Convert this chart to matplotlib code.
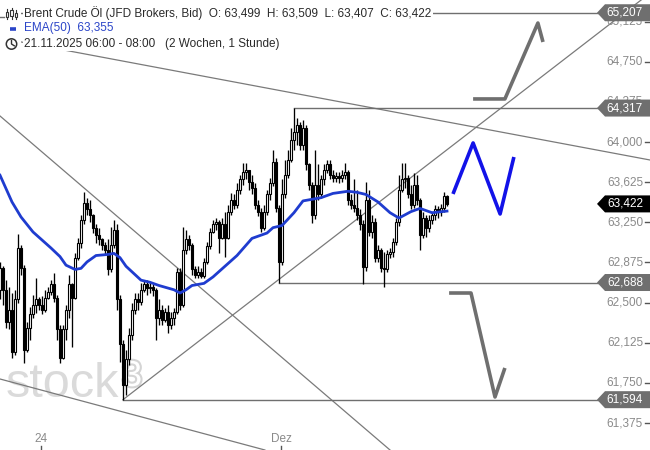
import matplotlib
matplotlib.use("Agg")
import matplotlib.pyplot as plt
from matplotlib.patches import Polygon, Circle, Rectangle
import matplotlib.patheffects as pe

plt.rcParams['font.family'] = ['Liberation Sans', 'DejaVu Sans']

# ---------------- data (hourly candles) ----------------
first_open = 62.62
closes = [62.82, 62.62, 62.32, 62.43, 62.04, 62.53, 63.01, 62.82, 62.06, 62.26,
          62.39, 62.48, 62.53, 62.48, 62.43, 62.54, 62.60, 62.67, 62.54, 62.25,
          61.98, 62.25, 62.43, 62.67, 62.54, 62.92, 63.06, 63.27, 63.43, 63.37,
          63.32, 63.20, 63.13, 63.09, 63.04, 62.99, 62.81, 63.04, 63.18, 62.53,
          62.11, 61.73, 61.97, 62.20, 62.43, 62.53, 62.51, 62.62, 62.67, 62.64,
          62.65, 62.62, 62.36, 62.43, 62.34, 62.41, 62.29, 62.36, 62.41, 62.79,
          62.48, 62.99, 63.09, 63.04, 62.81, 62.76, 62.79, 62.75, 62.88, 63.03,
          63.16, 63.23, 63.25, 63.10, 63.23, 63.10, 63.35, 63.46, 63.41, 63.55,
          63.65, 63.72, 63.74, 63.63, 63.57, 63.41, 63.35, 63.20, 63.35, 63.51,
          63.62, 63.81, 63.38, 62.88, 63.51, 63.69, 63.83, 64.02, 64.09, 64.16,
          63.97, 64.13, 63.79, 63.60, 63.32, 63.60, 63.51, 63.65, 63.74, 63.79,
          63.69, 63.66, 63.68, 63.66, 63.69, 63.72, 63.46, 63.41, 63.38, 63.32,
          63.23, 62.83, 63.46, 63.16, 63.25, 62.92, 62.99, 62.82, 62.81, 62.95,
          62.97, 63.07, 63.25, 63.55, 63.65, 63.66, 63.51, 63.41, 63.60, 63.46,
          63.13, 63.29, 63.20, 63.27, 63.32, 63.37, 63.35, 63.38, 63.499, 63.422]
highs = [62.88, 62.84, 62.71, 62.65, 62.59, 62.62, 63.14, 63.04, 62.85, 62.32,
         62.46, 62.57, 62.73, 62.55, 62.56, 62.62, 62.65, 62.71, 62.78, 62.57,
         62.29, 62.29, 62.48, 62.76, 62.68, 62.96, 63.10, 63.32, 63.53, 63.48,
         63.46, 63.33, 63.23, 63.20, 63.10, 63.07, 63.09, 63.21, 63.27, 63.23,
         62.57, 62.15, 62.06, 62.26, 62.50, 62.59, 62.59, 62.68, 62.71, 62.71,
         62.69, 62.67, 62.64, 62.53, 62.48, 62.45, 62.48, 62.41, 62.45, 62.82,
         62.82, 63.21, 63.18, 63.13, 63.06, 62.84, 62.84, 62.82, 62.92, 63.07,
         63.20, 63.27, 63.29, 63.27, 63.29, 63.35, 63.41, 63.52, 63.51, 63.62,
         63.69, 63.80, 63.80, 63.74, 63.69, 63.62, 63.46, 63.38, 63.41, 63.55,
         63.66, 63.93, 63.85, 63.41, 63.65, 63.83, 63.93, 64.13, 64.317, 64.22,
         64.19, 64.21, 64.16, 63.80, 63.63, 63.93, 63.79, 63.69, 63.79, 63.83,
         63.83, 63.74, 63.72, 63.72, 63.74, 63.80, 63.74, 63.51, 63.65, 63.55,
         63.37, 63.27, 63.63, 63.55, 63.32, 63.29, 63.04, 63.01, 62.97, 62.99,
         63.01, 63.10, 63.29, 63.69, 63.80, 63.80, 63.69, 63.60, 63.71, 63.69,
         63.48, 63.35, 63.32, 63.32, 63.35, 63.41, 63.40, 63.42, 63.53, 63.509]
lows = [62.53, 62.48, 62.26, 62.25, 61.98, 62.01, 62.50, 62.76, 61.94, 62.04,
        62.15, 62.36, 62.40, 62.43, 62.39, 62.41, 62.53, 62.57, 62.51, 62.15,
        61.94, 61.97, 62.15, 62.36, 62.09, 62.53, 62.90, 63.01, 63.23, 63.32,
        63.25, 63.15, 63.06, 63.04, 62.99, 62.95, 62.76, 62.79, 63.01, 62.43,
        61.95, 61.594, 61.64, 61.92, 62.15, 62.39, 62.43, 62.48, 62.60, 62.57,
        62.59, 62.56, 62.15, 62.29, 62.29, 62.32, 62.22, 62.25, 62.29, 62.39,
        62.43, 62.46, 62.95, 62.99, 62.76, 62.73, 62.73, 62.73, 62.73, 62.86,
        63.00, 63.15, 63.18, 62.96, 63.09, 62.93, 63.09, 63.32, 63.37, 63.38,
        63.51, 63.60, 63.65, 63.55, 63.51, 63.37, 63.31, 63.16, 63.18, 63.32,
        63.46, 63.59, 63.35, 62.688, 62.85, 63.48, 63.66, 63.81, 63.93, 63.97,
        63.93, 63.93, 63.74, 63.55, 63.24, 63.28, 63.46, 63.48, 63.60, 63.71,
        63.65, 63.63, 63.63, 63.62, 63.63, 63.65, 63.41, 63.37, 63.35, 63.27,
        63.18, 62.67, 62.80, 63.12, 63.10, 62.88, 62.88, 62.79, 62.65, 62.79,
        62.92, 62.93, 63.04, 63.22, 63.53, 63.57, 63.48, 63.37, 63.38, 63.41,
        62.99, 63.10, 63.11, 63.16, 63.23, 63.27, 63.29, 63.31, 63.35, 63.407]

# EMA(50) read at selected candle positions
ema_idx = [0, 4, 7, 11, 17, 20, 22, 25, 27, 29, 32, 36, 38, 40, 42, 47, 50, 53, 58, 60,
           62, 64, 68, 71, 73, 79, 84, 89, 91, 94, 98, 101, 107, 111, 116, 119, 122,
           126, 130, 133, 137, 140, 144, 149]
ema_val = [63.69, 63.44, 63.30, 63.16, 63.01, 62.93, 62.85, 62.81, 62.82, 62.88, 62.94,
           62.95, 62.96, 62.92, 62.84, 62.71, 62.69, 62.66, 62.62, 62.59, 62.62, 62.66,
           62.68, 62.74, 62.79, 62.94, 63.10, 63.15, 63.20, 63.22, 63.34, 63.45, 63.48,
           63.52, 63.54, 63.53, 63.51, 63.44, 63.34, 63.29, 63.35, 63.38, 63.34, 63.355]

level_prices = [65.207, 64.317, 62.688, 61.594]
level_start = [0, 98, 93, 41]
current_price = 63.422
ytick_vals = [65.125, 64.75, 64.375, 64.0, 63.625, 63.25, 62.875, 62.5, 62.125, 61.75, 61.375]
xtick_pos = [13.67, 93.67]
xtick_labels = ['24', 'Dez']

trend_lines = [((0, 64.971), (216.67, 63.832)),
               ((0, 64.243), (130.0, 61.124)),
               ((0, 61.787), (88.3, 61.124)),
               ((41, 61.594), (216.67, 65.39))]

arrow_up_x = [157.7, 168.3, 179.3, 181.0]
arrow_up_y = [64.402, 64.402, 65.111, 64.934]
zigzag_x = [151.0, 157.7, 166.7, 171.3]
zigzag_y = [63.515, 63.991, 63.328, 63.860]
arrow_dn_x = [149.7, 157.0, 165.0, 168.3]
arrow_dn_y = [62.590, 62.590, 61.619, 61.890]

legend_row1 = "Brent Crude Öl (JFD Brokers, Bid)  O: 63,499  H: 63,509  L: 63,407  C: 63,422"
legend_row2 = "EMA(50)  63,355"
legend_row3 = "21.11.2025 06:00 - 08:00   (2 Wochen, 1 Stunde)"

# ---------------- layout ----------------
W, H = 650, 450
X_MAX = W / 3.0
Y_TOP, Y_BOT = 65.326, 61.124


def y_px(v):
    return (Y_TOP - v) / (Y_TOP - Y_BOT) * H


def fmt(v):
    return f"{v:.3f}".replace('.', ',')


fig = plt.figure(figsize=(6.5, 4.5), dpi=100)
fig.patch.set_facecolor('white')
ax = fig.add_axes([0, 0, 1, 1])
ax.set_xlim(0, X_MAX)
ax.set_ylim(Y_BOT, Y_TOP)
ax.axis('off')

GRAY = '#6f6f6f'

# watermark
ax.text(6 / 3.0, Y_TOP - 397 * (Y_TOP - Y_BOT) / H, 'stock', fontsize=35, color='#dadada',
        ha='left', va='baseline', zorder=0)
ax.text(122 / 3.0, Y_TOP - 386 * (Y_TOP - Y_BOT) / H, '3', fontsize=26, color='white',
        ha='left', va='baseline', zorder=0,
        path_effects=[pe.withStroke(linewidth=3, foreground='#d4d4d4')])

# trend lines
for (x0, y0), (x1, y1) in trend_lines:
    ax.plot([x0, x1], [y0, y1], color='#7a7a7a', lw=0.9, zorder=1)

# horizontal levels
for p, s in zip(level_prices, level_start):
    ax.plot([s, 598 / 3.0], [p, p], color=GRAY, lw=1.0, zorder=1)

# candles
opens = [first_open] + closes[:-1]
for i, (o, h, l, c) in enumerate(zip(opens, highs, lows, closes)):
    top, bot = max(o, c), min(o, c)
    ax.vlines(i, min(l, bot), max(h, top), color='black', lw=0.95, zorder=2)
    body = max(top - bot, 0.006)
    fc = 'white' if c >= o else 'black'
    ax.add_patch(Rectangle((i - 0.4, bot), 0.8, body, facecolor=fc,
                           edgecolor='black', lw=0.8, zorder=3))

# EMA
ax.plot(ema_idx, ema_val, color='#1f3ccf', lw=2.0, zorder=4, solid_joinstyle='round')

# scenario drawings
ax.plot(arrow_up_x, arrow_up_y, color=GRAY, lw=2.6, zorder=5, solid_capstyle='butt')
ax.plot(zigzag_x, zigzag_y, color='#1212e8', lw=2.6, zorder=5, solid_capstyle='butt')
ax.plot(arrow_dn_x, arrow_dn_y, color=GRAY, lw=2.6, zorder=5, solid_capstyle='butt')

# ---------------- overlay in pixel coordinates ----------------
ov = fig.add_axes([0, 0, 1, 1])
ov.set_xlim(0, W)
ov.set_ylim(H, 0)
ov.axis('off')
ov.patch.set_alpha(0)

# y axis labels and ticks
for v in ytick_vals:
    yp = y_px(v)
    ov.text(643, yp, fmt(v), ha='right', va='center', fontsize=8.5, color='#8a8a8a', zorder=1)
    ov.plot([645, 650], [yp, yp], color='#555555', lw=1, zorder=1)

# x axis labels
for xp, lab in zip(xtick_pos, xtick_labels):
    xx = xp * 3
    ov.text(xx, 439, lab, ha='center', va='center', fontsize=8.5, color='#8a8a8a')
    ov.plot([xx, xx], [446, 450], color='#555555', lw=1)


def price_box(v, color):
    yp = y_px(v)
    hh = 8.5
    ov.add_patch(Polygon([(597, yp), (605, yp - hh), (650, yp - hh), (650, yp + hh), (605, yp + hh)],
                         closed=True, facecolor=color, edgecolor='none', zorder=5))
    ov.text(643, yp, fmt(v), ha='right', va='center', fontsize=8.5, color='white', zorder=6)


for p in level_prices:
    price_box(p, GRAY)
price_box(current_price, 'black')

# legend
bb = dict(facecolor='white', edgecolor='none', pad=1.0)
ov.text(24, 13.5, legend_row1, ha='left', va='center', fontsize=8.5, color='#2a2a2a', bbox=bb, zorder=7)
ov.text(24, 28.5, legend_row2, ha='left', va='center', fontsize=8.5, color='#2b45c8', bbox=bb, zorder=7)
ov.text(24, 44, legend_row3, ha='left', va='center', fontsize=8.5, color='#2a2a2a', bbox=bb, zorder=7)

# icons
ov.add_patch(Rectangle((0, 7), 21, 40, facecolor='white', edgecolor='none', zorder=6))
for cx, (wt, wb, bt, bb_) in zip([7, 11.5, 16], [(9, 19, 12, 17), (8, 19, 10, 16), (10, 19, 13, 17)]):
    ov.plot([cx, cx], [wt, wb], color='#333333', lw=0.8, zorder=7)
    ov.add_patch(Rectangle((cx - 1.3, bt), 2.6, bb_ - bt, facecolor='white', edgecolor='#333333',
                           lw=0.8, zorder=8))
ov.plot([0, 4], [17, 17], color=GRAY, lw=1, zorder=7)
ov.plot([10, 16], [28.5, 28.5], color='#2b45c8', lw=2.6, zorder=7, solid_capstyle='butt')
ov.add_patch(Circle((11.5, 44), 5.2, fill=False, edgecolor='#333333', lw=1.1, zorder=7))
ov.plot([11.5, 11.5, 14.3], [40.5, 44, 45.8], color='#333333', lw=1.0, zorder=7)

fig.savefig('out.png', dpi=100, facecolor='white')
